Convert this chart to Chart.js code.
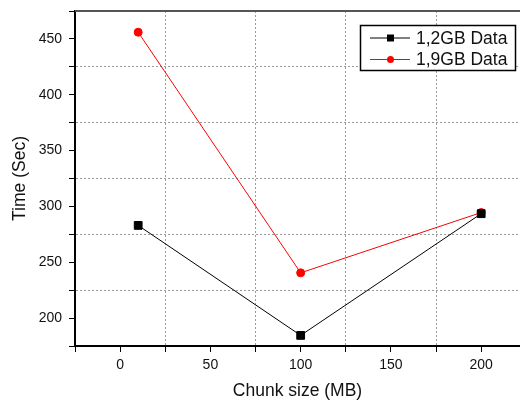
<!DOCTYPE html>
<html>
<head>
<meta charset="utf-8">
<script src="https://cdn.jsdelivr.net/npm/chart.js@4.4.1/dist/chart.umd.min.js"></script>
<style>
  html, body { margin: 0; padding: 0; background: #fff; }
  #wrap { width: 520px; height: 403px; }
</style>
</head>
<body>
<div id="wrap"><canvas id="c" width="520" height="403"></canvas></div>
<script>
// chunk size (MB) vs run time
const chunkSizes = [10, 100, 200];
const time12 = [283, 184.5, 293.5];
const time19 = [456, 240.5, 294.5];
const xTickLabels = [0, 50, 100, 150, 200];
const yTickLabels = [200, 250, 300, 350, 400, 450];

const FONT = 'Liberation Sans, Arial, sans-serif';
// dotted grid only on the in-between (minor) ticks
const gridCol = ctx => {
  if (!ctx.tick) return 'rgba(0,0,0,0)';
  const m = ((ctx.tick.value % 50) + 50) % 50;
  return Math.abs(m - 25) < 1e-6 ? '#9a9a9a' : 'rgba(0,0,0,0)';
};

// frame top line + boxed legend like Origin
const decor = {
  id: 'decor',
  afterDraw(chart) {
    const c = chart.ctx, a = chart.chartArea;
    c.save();
    c.strokeStyle = '#555';
    c.lineWidth = 2;
    c.beginPath();
    c.moveTo(a.left, a.top);
    c.lineTo(a.right, a.top);
    c.stroke();

    const bx = 360.5, by = 25.5, bw = 155, bh = 45;
    c.fillStyle = '#fff';
    c.fillRect(bx, by, bw, bh);
    c.strokeStyle = '#000';
    c.lineWidth = 1.5;
    c.strokeRect(bx, by, bw, bh);
    c.font = '17.5px ' + FONT;
    c.textBaseline = 'middle';
    chart.data.datasets.forEach((ds, i) => {
      const y = by + 12.5 + i * 21.5;
      c.strokeStyle = ds.borderColor;
      c.lineWidth = 1;
      c.beginPath();
      c.moveTo(370, y);
      c.lineTo(410, y);
      c.stroke();
      c.fillStyle = ds.borderColor;
      if (ds.pointStyle === 'rect') {
        c.fillRect(387, y - 3.5, 7, 7);
      } else {
        c.beginPath();
        c.arc(390.5, y, 3.5, 0, Math.PI * 2);
        c.fill();
      }
      c.fillStyle = '#111';
      c.fillText(ds.label, 416, y + 1);
    });
    c.restore();
  }
};

new Chart(document.getElementById('c'), {
  type: 'line',
  data: {
    datasets: [
      {
        label: '1,2GB Data',
        data: chunkSizes.map((x, i) => ({ x: x, y: time12[i] })),
        borderColor: '#000',
        backgroundColor: '#000',
        borderWidth: 1,
        pointStyle: 'rect',
        pointRadius: 5.5,
        pointHoverRadius: 5.5
      },
      {
        label: '1,9GB Data',
        data: chunkSizes.map((x, i) => ({ x: x, y: time19[i] })),
        borderColor: '#ff0000',
        backgroundColor: '#ff0000',
        borderWidth: 1,
        pointStyle: 'circle',
        pointRadius: 4,
        pointHoverRadius: 4
      }
    ]
  },
  options: {
    responsive: false,
    animation: false,
    layout: { autoPadding: false, padding: { top: 11, right: 0, left: 0, bottom: 0 } },
    plugins: {
      legend: { display: false },
      tooltip: { enabled: false }
    },
    scales: {
      x: {
        type: 'linear',
        min: -25,
        max: 221.5,
        afterFit: s => { s.height = 57; s.paddingLeft = 0; s.paddingRight = 0; },
        ticks: {
          stepSize: 25,
          includeBounds: false,
          autoSkip: false,
          maxRotation: 0,
          padding: 5,
          color: '#111',
          font: { family: FONT, size: 14 },
          callback: v => xTickLabels.includes(v) ? String(v) : ''
        },
        grid: {
          color: gridCol,
          tickColor: '#000',
          tickLength: 6
        },
        border: { color: '#000', width: 2, dash: [2, 2] },
        title: {
          display: true,
          text: 'Chunk size (MB)',
          color: '#111',
          font: { family: FONT, size: 17.5 },
          padding: { top: 0, bottom: 1.5 }
        }
      },
      y: {
        min: 175,
        max: 475,
        afterFit: s => { s.width = 75; s.paddingTop = 0; s.paddingBottom = 0; },
        ticks: {
          stepSize: 25,
          includeBounds: false,
          autoSkip: false,
          padding: 7,
          color: '#111',
          font: { family: FONT, size: 14 },
          callback: v => yTickLabels.includes(v) ? String(v) : ''
        },
        grid: {
          color: gridCol,
          tickColor: '#000',
          tickLength: 6
        },
        border: { color: '#000', width: 2, dash: [2, 2] },
        title: {
          display: true,
          text: 'Time (Sec)',
          color: '#111',
          font: { family: FONT, size: 17.5 },
          padding: { top: 9.5, bottom: 0 }
        }
      }
    }
  },
  plugins: [decor]
});
</script>
</body>
</html>
